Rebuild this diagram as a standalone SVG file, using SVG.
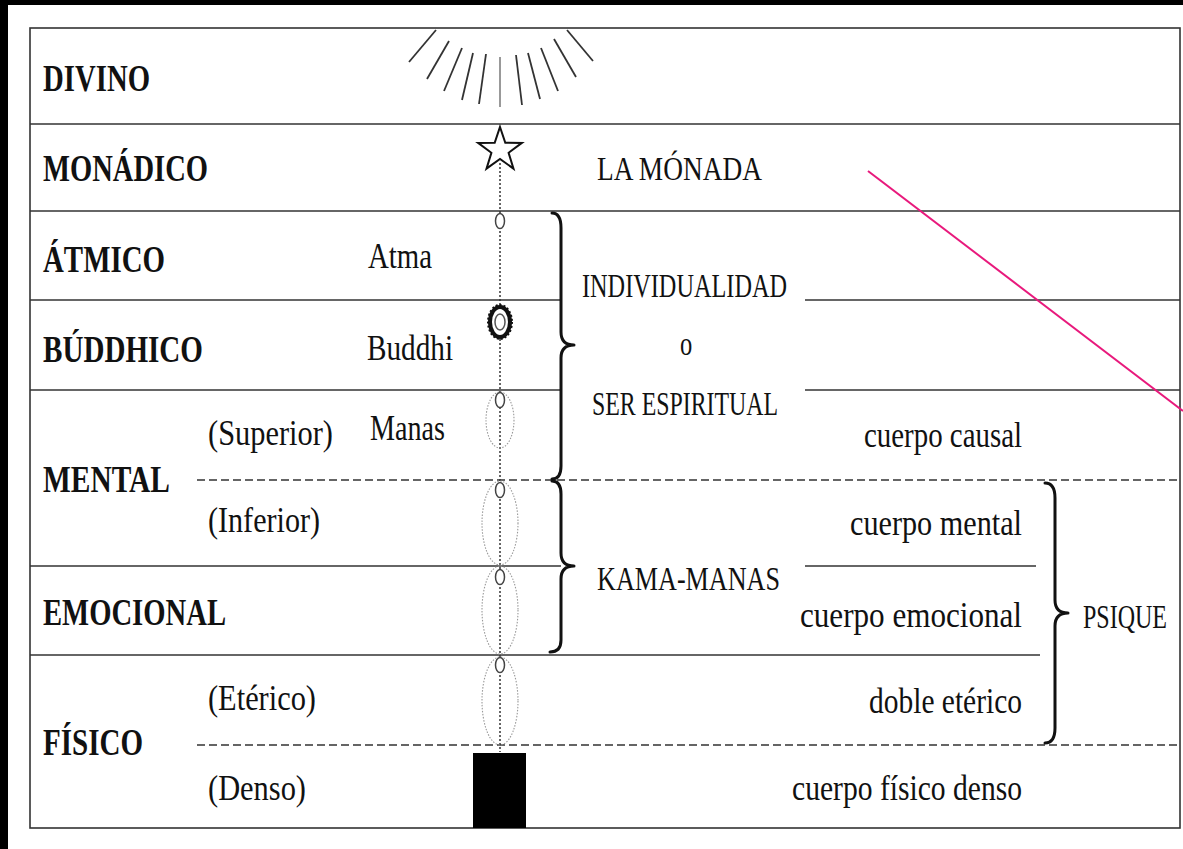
<svg xmlns="http://www.w3.org/2000/svg" width="1183" height="849" viewBox="0 0 1183 849">
<style>
.b{font-family:"Liberation Serif","Times New Roman",serif;font-weight:bold;font-size:28.5px;fill:#111}
.r{font-family:"Liberation Serif","Times New Roman",serif;font-size:27px;fill:#111}
.u{font-family:"Liberation Serif","Times New Roman",serif;font-size:24.5px;fill:#111}
.ln{stroke:#333;stroke-width:1.6;fill:none}
.dash{stroke:#333;stroke-width:1.5;stroke-dasharray:8 4;fill:none}
.ray{stroke:#333;stroke-width:1.8}
.brace{stroke:#111;stroke-width:3;fill:none;stroke-linejoin:round;stroke-linecap:round}
.sm{fill:#fff;stroke:#444;stroke-width:1.5}
.big{fill:none;stroke:#999;stroke-width:1.1;stroke-dasharray:1.5 1.5}
</style>
<rect x="0" y="0" width="1183" height="849" fill="#fff"/>
<rect x="0" y="0" width="8" height="849" fill="#000"/>
<rect x="0" y="0" width="1183" height="5" fill="#000"/>

<g id="frame">
<rect x="30" y="28" width="1150" height="800" class="ln"/>
<line x1="30" y1="124" x2="1180" y2="124" class="ln"/>
<line x1="30" y1="211" x2="1180" y2="211" class="ln"/>
<line x1="30" y1="300" x2="561" y2="300" class="ln"/>
<line x1="805" y1="300" x2="1180" y2="300" class="ln"/>
<line x1="30" y1="390" x2="561" y2="390" class="ln"/>
<line x1="805" y1="390" x2="1180" y2="390" class="ln"/>
<line x1="197" y1="480" x2="1180" y2="480" class="dash"/>
<line x1="30" y1="566" x2="561" y2="566" class="ln"/>
<line x1="805" y1="566" x2="1036" y2="566" class="ln"/>
<line x1="30" y1="655" x2="1040" y2="655" class="ln"/>
<line x1="197" y1="745" x2="1180" y2="745" class="dash"/>
</g>

<g id="sun">
<line x1="436" y1="30" x2="409" y2="62" class="ray"/>
<line x1="449" y1="41" x2="427" y2="79" class="ray"/>
<line x1="462" y1="48" x2="444" y2="91" class="ray"/>
<line x1="473" y1="53" x2="462" y2="100" class="ray"/>
<line x1="486" y1="54" x2="479" y2="104" class="ray"/>
<line x1="500" y1="57" x2="500" y2="107" stroke="#999" stroke-width="2"/>
<line x1="516" y1="55" x2="522" y2="105" class="ray"/>
<line x1="528" y1="53" x2="540" y2="99" class="ray"/>
<line x1="541" y1="48" x2="558" y2="91" class="ray"/>
<line x1="554" y1="39" x2="576" y2="77" class="ray"/>
<line x1="567" y1="30" x2="593" y2="61" class="ray"/>
</g>

<g id="connectors">
<line x1="500" y1="163" x2="500" y2="752" stroke="#333" stroke-width="1.5" stroke-dasharray="2 2"/>
<line x1="868" y1="171" x2="1183" y2="411" stroke="#e8197c" stroke-width="2"/>
</g>

<g id="aura">
<ellipse cx="500" cy="420" rx="14" ry="28" class="big"/>
<ellipse cx="500" cy="523" rx="18" ry="42" class="big"/>
<ellipse cx="500" cy="610" rx="18" ry="44" class="big"/>
<ellipse cx="500" cy="701" rx="18" ry="44" class="big"/>
</g>

<g id="star">
<polygon points="500,127 505.3,142.7 521.9,142.9 508.6,152.8 513.5,168.6 500,159 486.5,168.6 491.4,152.8 478.1,142.9 494.7,142.7" fill="#fff" stroke="#111" stroke-width="2" stroke-linejoin="miter"/>
</g>

<g id="atoms">
<ellipse cx="500" cy="221" rx="4.5" ry="7.5" class="sm"/>
<ellipse cx="500" cy="400" rx="4.5" ry="7.5" class="sm"/>
<ellipse cx="500" cy="490" rx="4.5" ry="7.5" class="sm"/>
<ellipse cx="500" cy="577" rx="4.5" ry="7.5" class="sm"/>
<ellipse cx="500" cy="665" rx="4.5" ry="7.5" class="sm"/>
</g>

<g id="buddhi">
<ellipse cx="500" cy="322" rx="12" ry="17" fill="#fff" stroke="#111" stroke-width="2" stroke-dasharray="2 2"/>
<ellipse cx="500" cy="322" rx="10" ry="15" fill="none" stroke="#111" stroke-width="4"/>
<ellipse cx="500" cy="322" rx="5" ry="8" fill="none" stroke="#555" stroke-width="1.5"/>
</g>

<g id="dense">
<rect x="473" y="753" width="53" height="75" fill="#000"/>
</g>

<g id="braces">
<path class="brace" d="M552,213 Q561,213 561,228 L561,332 Q561,345 574,345 Q561,345 561,358 L561,466 Q561,479 552,479"/>
<path class="brace" d="M552,481 Q561,481 561,494 L561,553 Q561,566 574,566 Q561,566 561,579 L561,640 Q561,652 550,652"/>
<path class="brace" d="M1045,483 Q1055,483 1055,498 L1055,600 Q1055,613 1068,613 Q1055,613 1055,626 L1055,728 Q1055,743 1045,743"/>
</g>

<g id="plane-divino"><text class="b" transform="translate(43,91) scale(1,1.35)" textLength="107" lengthAdjust="spacingAndGlyphs">DIVINO</text></g>
<g id="plane-monadico">
<text class="b" transform="translate(43,181) scale(1,1.35)" textLength="165" lengthAdjust="spacingAndGlyphs">MONÁDICO</text>
<text class="u" transform="translate(597,180) scale(1,1.35)" textLength="165" lengthAdjust="spacingAndGlyphs">LA MÓNADA</text>
</g>
<g id="plane-atmico">
<text class="b" transform="translate(43,272) scale(1,1.35)" textLength="122" lengthAdjust="spacingAndGlyphs">ÁTMICO</text>
<text class="r" transform="translate(368,268) scale(1,1.35)" textLength="64" lengthAdjust="spacingAndGlyphs">Atma</text>
</g>
<g id="plane-buddhico">
<text class="b" transform="translate(43,362) scale(1,1.35)" textLength="160" lengthAdjust="spacingAndGlyphs">BÚDDHICO</text>
<text class="r" transform="translate(367,360) scale(1,1.35)" textLength="86" lengthAdjust="spacingAndGlyphs">Buddhi</text>
</g>
<g id="individualidad">
<text class="u" transform="translate(582,297) scale(1,1.35)" textLength="205" lengthAdjust="spacingAndGlyphs">INDIVIDUALIDAD</text>
<text class="u" transform="translate(686,355) scale(1,1.35)" text-anchor="middle">o</text>
<text class="u" transform="translate(592,415) scale(1,1.35)" textLength="186" lengthAdjust="spacingAndGlyphs">SER ESPIRITUAL</text>
</g>
<g id="plane-mental">
<text class="b" transform="translate(43,492) scale(1,1.35)" textLength="127" lengthAdjust="spacingAndGlyphs">MENTAL</text>
<text class="r" transform="translate(208,445) scale(1,1.35)" textLength="125" lengthAdjust="spacingAndGlyphs">(Superior)</text>
<text class="r" transform="translate(370,440) scale(1,1.35)" textLength="75" lengthAdjust="spacingAndGlyphs">Manas</text>
<text class="r" transform="translate(1022,447) scale(1,1.35)" text-anchor="end" textLength="158" lengthAdjust="spacingAndGlyphs">cuerpo causal</text>
<text class="r" transform="translate(208,532) scale(1,1.35)" textLength="112" lengthAdjust="spacingAndGlyphs">(Inferior)</text>
<text class="r" transform="translate(1022,535) scale(1,1.35)" text-anchor="end" textLength="172" lengthAdjust="spacingAndGlyphs">cuerpo mental</text>
</g>
<g id="kama-manas">
<text class="u" transform="translate(597,590) scale(1,1.35)" textLength="183" lengthAdjust="spacingAndGlyphs">KAMA-MANAS</text>
</g>
<g id="plane-emocional">
<text class="b" transform="translate(43,625) scale(1,1.35)" textLength="183" lengthAdjust="spacingAndGlyphs">EMOCIONAL</text>
<text class="r" transform="translate(1022,627) scale(1,1.35)" text-anchor="end" textLength="222" lengthAdjust="spacingAndGlyphs">cuerpo emocional</text>
</g>
<g id="psique">
<text class="u" transform="translate(1083,628) scale(1,1.35)" textLength="84" lengthAdjust="spacingAndGlyphs">PSIQUE</text>
</g>
<g id="plane-fisico">
<text class="b" transform="translate(43,755) scale(1,1.35)" textLength="100" lengthAdjust="spacingAndGlyphs">FÍSICO</text>
<text class="r" transform="translate(208,710) scale(1,1.35)" textLength="108" lengthAdjust="spacingAndGlyphs">(Etérico)</text>
<text class="r" transform="translate(1022,713) scale(1,1.35)" text-anchor="end" textLength="153" lengthAdjust="spacingAndGlyphs">doble etérico</text>
<text class="r" transform="translate(208,800) scale(1,1.35)" textLength="98" lengthAdjust="spacingAndGlyphs">(Denso)</text>
<text class="r" transform="translate(1022,800) scale(1,1.35)" text-anchor="end" textLength="230" lengthAdjust="spacingAndGlyphs">cuerpo físico denso</text>
</g>
</svg>
